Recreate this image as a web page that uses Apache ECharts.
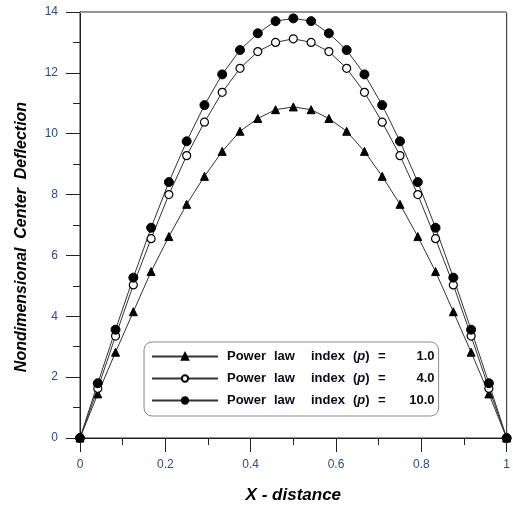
<!DOCTYPE html>
<html><head><meta charset="utf-8">
<script src="https://cdn.jsdelivr.net/npm/echarts@6/dist/echarts.min.js"></script>
<style>html,body{margin:0;padding:0;background:#fff}#c{width:513px;height:509px}</style>
</head><body><div id="c"></div>
<script>
const xValues = [0,0.0417,0.0833,0.125,0.1667,0.2083,0.25,0.2917,0.3333,0.375,0.4167,0.4583,0.5,0.5417,0.5833,0.625,0.6667,0.7083,0.75,0.7917,0.8333,0.875,0.9167,0.9583,1];
const p1Values = [0,1.45,2.82,4.15,5.47,6.62,7.68,8.6,9.42,10.08,10.5,10.79,10.88,10.79,10.5,10.08,9.42,8.6,7.68,6.62,5.47,4.15,2.82,1.45,0];
const p4Values = [0,1.63,3.35,5.03,6.55,8.0,9.28,10.38,11.36,12.15,12.7,13.0,13.12,13.0,12.7,12.15,11.36,10.38,9.28,8.0,6.55,5.03,3.35,1.63,0];
const p10Values = [0,1.8,3.56,5.27,6.91,8.41,9.75,10.94,11.95,12.75,13.3,13.7,13.79,13.7,13.3,12.75,11.95,10.94,9.75,8.41,6.91,5.27,3.56,1.8,0];
const seriesNames = ['p1','p4','p10'];
const legendValues = {p1:'1.0', p4:'4.0', p10:'10.0'};
const xTickLabels = ['0','0.2','0.4','0.6','0.8','1'];

const pairs = vals => xValues.map((x,i)=>[x, vals[i]]);
const chart = echarts.init(document.getElementById('c'));
const labelColor = '#2f4a80';
const axisColor = '#222';
const txt = {fontSize:13,fontWeight:'bold',fontFamily:'Arial',color:'#0a0a1a',lineHeight:15};
chart.setOption({
  animation:false,
  grid:{left:80,right:5,top:12,bottom:71,show:true,borderColor:axisColor,borderWidth:1},
  xAxis:[{type:'value',min:0,max:1,interval:0.2,
    axisLine:{lineStyle:{color:axisColor}},
    axisTick:{show:true,inside:false,length:14,lineStyle:{color:axisColor}},
    minorTick:{show:true,splitNumber:2,length:7,lineStyle:{color:axisColor}},
    splitLine:{show:false},
    axisLabel:{margin:21,color:labelColor,fontSize:12,fontFamily:'Arial',
      formatter:(v)=>xTickLabels[Math.round(v/0.2)]},
    name:'X - distance',nameLocation:'middle',nameGap:49,
    nameTextStyle:{fontSize:17,fontWeight:'bold',fontStyle:'italic',color:'#000',fontFamily:'Arial'}
  },{type:'value',position:'top',min:0,max:1,axisLine:{show:true,lineStyle:{color:'#999'}},axisTick:{show:false},axisLabel:{show:false},splitLine:{show:false}}],
  yAxis:{type:'value',min:0,max:14,interval:2,
    axisLine:{show:true,lineStyle:{color:axisColor}},
    axisTick:{show:true,inside:false,length:14,lineStyle:{color:axisColor}},
    minorTick:{show:true,splitNumber:2,length:7,lineStyle:{color:axisColor}},
    splitLine:{show:false},
    axisLabel:{margin:22,color:labelColor,fontSize:12,fontFamily:'Arial'},
    name:'Nondimensional  Center  Deflection',nameLocation:'middle',nameGap:50,
    nameTextStyle:{fontSize:16,fontWeight:'bold',fontStyle:'italic',color:'#000',fontFamily:'Arial',padding:[0,24,0,0]}
  },
  legend:{
    orient:'vertical',left:144,top:342,
    data:seriesNames,
    itemWidth:66,itemHeight:8,itemGap:9,
    borderColor:'#888',borderWidth:1,borderRadius:8,
    padding:[8,4,9,7],
    backgroundColor:'#fff',
    formatter:n=>'{s|}{w1|Power}{w2|law}{w3|index}{a|(}{i|p}{a|)}{e|=}{v|'+legendValues[n]+'}',
    textStyle:{color:'#0a0a1a',rich:{
      s:Object.assign({},txt,{width:4}),
      w1:Object.assign({},txt,{width:47}),
      w2:Object.assign({},txt,{width:37}),
      w3:Object.assign({},txt,{width:42}),
      a:Object.assign({},txt),
      i:Object.assign({},txt,{fontStyle:'italic'}),
      e:Object.assign({},txt,{width:16,align:'right'}),
      v:Object.assign({},txt,{width:49,align:'right'})
    }}
  },
  series:[
    {name:'p1',type:'line',data:pairs(p1Values),symbol:'triangle',symbolSize:8,
      lineStyle:{color:'#333',width:1},itemStyle:{color:'#000',borderColor:'#000',borderWidth:1}},
    {name:'p4',type:'line',data:pairs(p4Values),symbol:'circle',symbolSize:8,
      lineStyle:{color:'#333',width:1},itemStyle:{color:'#fff',borderColor:'#000',borderWidth:1.2}},
    {name:'p10',type:'line',data:pairs(p10Values),symbol:'circle',symbolSize:9,
      lineStyle:{color:'#333',width:1},itemStyle:{color:'#000',borderColor:'#000',borderWidth:1}}
  ]
});
</script></body></html>
